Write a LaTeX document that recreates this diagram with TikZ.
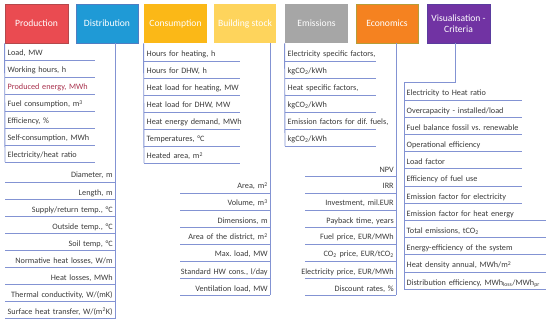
\documentclass[tikz,border=0pt]{standalone}
\usepackage{fontspec}
\setmainfont{Carlito}
\frenchspacing
\definecolor{lnc}{HTML}{8393D3}
\definecolor{txt}{HTML}{3A3A3A}
\definecolor{redtxt}{HTML}{A8304C}
\definecolor{cprod}{HTML}{EA4B51}
\definecolor{bprod}{HTML}{B4484B}
\definecolor{cdist}{HTML}{1F9AD6}
\definecolor{bdist}{HTML}{4F7DC2}
\definecolor{ccons}{HTML}{FBB817}
\definecolor{cbld}{HTML}{FED45C}
\definecolor{cemi}{HTML}{A6A6A6}
\definecolor{ceco}{HTML}{F58220}
\definecolor{beco}{HTML}{B59D38}
\definecolor{cvis}{HTML}{7133A3}
\definecolor{bvis}{HTML}{5A3C9E}
\newcommand{\lbox}[1]{\makebox[\linewidth][l]{#1}}
\newcommand{\rbox}[1]{\makebox[\linewidth][r]{#1}}
\begin{document}
\begin{tikzpicture}[x=1pt,y=-1pt,
  hdr/.style={minimum width=63pt, minimum height=39pt, inner sep=1pt,
    font=\fontsize{9.6}{11}\selectfont, text=white, align=center, line width=0.8pt},
  itembox/.style={anchor=south west, inner xsep=2.5pt, inner ysep=2pt,
    text height=6pt, text depth=1.8pt, font=\fontsize{8.2}{9}\selectfont\frenchspacing, text=txt},
  itemL/.style={itembox, text width=#1, align=left},
  itemR/.style={itembox, text width=#1, align=right},
  ln/.style={draw=lnc, line width=0.9pt}]
\useasboundingbox (0,0) rectangle (550,321);

% headers
\node[hdr, fill=cprod, draw=bprod] (prod) at (36.5,23.5) {Production};
\node[hdr, fill=cdist, draw=bdist, minimum width=62pt] (dist) at (107,23.5) {Distribution};
\node[hdr, fill=ccons] (cons) at (175.5,23.5) {Consumption};
\node[hdr, fill=cbld, minimum width=62pt] (bld) at (245,23.5) {Building stock};
\node[hdr, fill=cemi] (emi) at (316.5,23.5) {Emissions};
\node[hdr, fill=ceco, draw=beco, minimum width=62pt] (eco) at (387,23.5) {Economics};
\node[hdr, fill=cvis, draw=bvis] (vis) at (458.5,23.5) {Visualisation -\\Criteria};

% Production
\foreach \t [count=\i] in {{Load, MW},{Working hours, h},{\textcolor{redtxt}{Produced energy, MWh}},
  {Fuel consumption, m\textsuperscript{3}},{Efficiency, \%},{Self-consumption, MWh},{Electricity/heat ratio}}{
  \node[itemL=85pt] (p\i) at ({5},{60+17*(\i-1)}) {\lbox{\t}};
  \draw[ln] (p\i.south west) -- (p\i.south east);
}
\draw[ln] (prod.south west) -- (p7.south west);

% Distribution
\foreach \t [count=\i] in {{Diameter, m},{Length, m},{Supply/return temp., °C},{Outside temp., °C},
  {Soil temp, °C},{Normative heat losses, W/m},{Heat losses, MWh},{Thermal conductivity, W/(mK)},
  {Surface heat transfer, W/(m\textsuperscript{2}K)}}{
  \node[itemR=105pt] (d\i) at ({5},{182+17.1*(\i-1)}) {\rbox{\t}};
  \draw[ln] (d\i.south west) -- (d\i.south east);
}
\draw[ln] (dist.south -| d9.south east) -- (d9.south east);

% Consumption
\foreach \t [count=\i] in {{Hours for heating, h},{Hours for DHW, h},{Heat load for heating, MW},
  {Heat load for DHW, MW},{Heat energy demand, MWh},{Temperatures, °C},{Heated area, m\textsuperscript{2}}}{
  \node[itemL=91pt] (c\i) at ({144},{61+17*(\i-1)}) {\lbox{\t}};
  \draw[ln] (c\i.south west) -- (c\i.south east);
}
\draw[ln] (cons.south west) -- (c7.south west);

% Building stock
\foreach \t [count=\i] in {{Area, m\textsuperscript{2}},{Volume, m\textsuperscript{3}},{Dimensions, m},
  {Area of the district, m\textsuperscript{2}},{Max. load, MW},{Standard HW cons., l/day},{Ventilation load, MW}}{
  \node[itemR=85pt] (b\i) at ({180},{193+17*(\i-1)}) {\rbox{\t}};
  \draw[ln] (b\i.south west) -- (b\i.south east);
}
\draw[ln] (bld.south -| b7.south east) -- (b7.south east);

% Emissions
\foreach \t [count=\i] in {{Electricity specific factors,},{kgCO\textsubscript{2}/kWh},{Heat specific factors,},
  {kgCO\textsubscript{2}/kWh},{Emission factors for dif. fuels,},{kgCO\textsubscript{2}/kWh}}{
  \node[itemL=86pt] (m\i) at ({285},{61+17*(\i-1)}) {\lbox{\t}};
  \draw[ln] (m\i.south west) -- (m\i.south east);
}
\draw[ln] (emi.south west) -- (m6.south west);

% Economics
\foreach \t [count=\i] in {{NPV},{IRR},{Investment, mil.EUR},{Payback time, years},{Fuel price, EUR/MWh},
  {CO\textsubscript{2} price, EUR/tCO\textsubscript{2}},{Electricity price, EUR/MWh},{Discount rates, \%}}{
  \node[itemR=86pt] (e\i) at ({305},{176+17*(\i-1)}) {\rbox{\t}};
  \draw[ln] (e\i.south west) -- (e\i.south east);
}
\draw[ln] (eco.south -| e8.south east) -- (e8.south east);

% Visualisation - Criteria
\foreach \t [count=\i] in {{Electricity to Heat ratio},{Overcapacity - installed/load},
  {Fuel balance fossil vs. renewable},{Operational efficiency},{Load factor},{Efficiency of fuel use},
  {Emission factor for electricity}}{
  \node[itemL=113pt] (v\i) at ({404},{100+17.2*(\i-1)}) {\lbox{\t}};
  \draw[ln] (v\i.south west) -- (v\i.south east);
}
\foreach \t [count=\j from 8] in {{Emission factor for heat energy},{Total emissions, tCO\textsubscript{2}},
  {Energy-efficiency of the system},{Heat density annual, MWh/m\textsuperscript{2}},
  {Distribution efficiency, MWh\textsubscript{loss}/MWh\textsubscript{pr}}}{
  \node[itemL=137pt] (v\j) at ({404},{100+17.2*(\j-1)}) {\lbox{\t}};
  \draw[ln] (v\j.south west) -- (v\j.south east);
}
\coordinate (vb) at (455,82);
\draw[ln] (vis.south -| vb) -- (vb) -| (v12.south west);
\end{tikzpicture}
\end{document}
